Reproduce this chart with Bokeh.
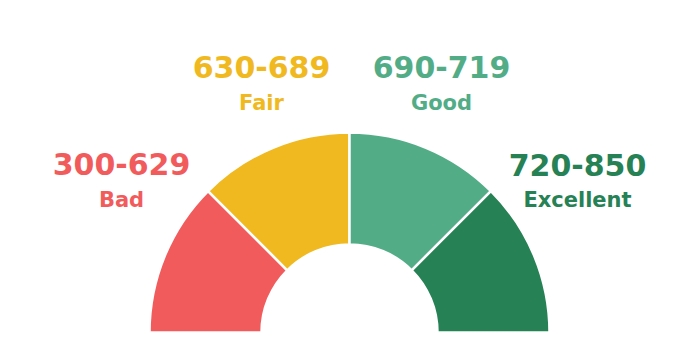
import math
from bokeh.plotting import figure
from bokeh.models import ColumnDataSource, Range1d
from bokeh.core.properties import value
from bokeh.embed import file_html
from bokeh.resources import INLINE

# ---- data ----
categories = ["Bad", "Fair", "Good", "Excellent"]
score_ranges = ["300-629", "630-689", "690-719", "720-850"]
colors = ["#F25B5C", "#F0B91F", "#52AD87", "#268155"]

W, H = 688, 363
p = figure(width=W, height=H, output_backend="svg", toolbar_location=None,
           x_range=Range1d(0, W), y_range=Range1d(0, H), min_border=0)
p.axis.visible = False
p.grid.visible = False
p.outline_line_color = None
p.background_fill_color = "white"
p.border_fill_color = "white"

cx, cy = 349, H - 332
r_in, r_out = 88, 200
n = len(categories)
step = math.pi / n
starts = [math.pi - (i + 1) * step for i in range(n)]
ends = [math.pi - i * step for i in range(n)]

src = ColumnDataSource(dict(cat=categories, rng=score_ranges, color=colors,
                            start=starts, end=ends))
p.annular_wedge(x=cx, y=cy, inner_radius=r_in, outer_radius=r_out,
                start_angle="start", end_angle="end", fill_color="color",
                line_color="white", line_width=2.5, source=src)

# label layout (pixel positions of label centres / baselines)
lx = [121, 261, 441, 577]
ly_range = [163, 66, 66, 164]
ly_name = [199, 102, 102, 199]
lab = ColumnDataSource(dict(x=lx, yr=[H - v for v in ly_range],
                            yn=[H - v for v in ly_name],
                            rng=score_ranges, cat=categories, color=colors))
p.text(x="x", y="yr", text="rng", text_color="color", source=lab,
       text_font=value("DejaVu Sans"), text_font_style="bold",
       text_font_size="30px", text_align="center", text_baseline="alphabetic")
p.text(x="x", y="yn", text="cat", text_color="color", source=lab,
       text_font=value("DejaVu Sans"), text_font_style="bold",
       text_font_size="21px", text_align="center", text_baseline="alphabetic")

open("out.html", "w").write(file_html(p, INLINE))
